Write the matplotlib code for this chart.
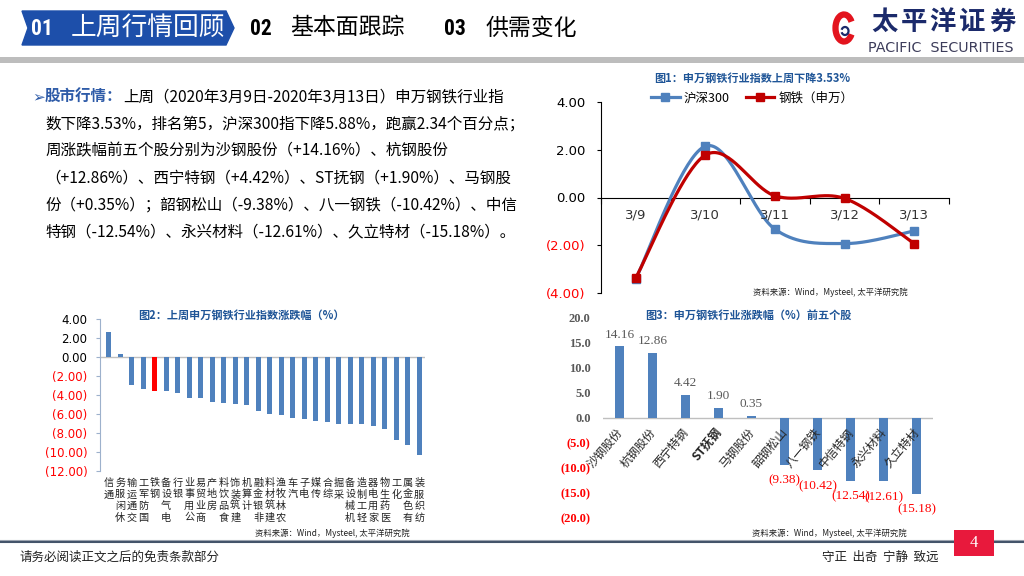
import numpy as np
import matplotlib
matplotlib.use("Agg")
import matplotlib.pyplot as plt
from matplotlib.patches import Polygon, Rectangle, Arc
from matplotlib.lines import Line2D

W, H = 1024, 576
CJK = ['Noto Sans CJK SC', 'DejaVu Sans']
SERIF = ['Liberation Serif', 'Noto Sans CJK SC']
NARROW = ['Roboto Condensed', 'Liberation Sans Narrow', 'Noto Sans CJK SC']
plt.rcParams['font.family'] = CJK
plt.rcParams['axes.unicode_minus'] = False

BLUE_TITLE = '#1F5597'
BAR_BLUE = '#4F81BD'

# --------------------------------------------------
# Data
# --------------------------------------------------
days = ["3/9", "3/10", "3/11", "3/12", "3/13"]
hs300 = [-3.40, 2.15, -1.33, -1.93, -1.40]
steel = [-3.36, 1.78, 0.07, -0.04, -1.93]

industries = ["通信", "休闲服务", "交通运输", "国防军工", "钢铁", "电气设备", "银行",
              "公用事业", "商业贸易", "房地产", "食品饮料", "建筑装饰", "计算机",
              "非银金融", "建筑材料", "农林牧渔", "汽车", "电子", "传媒", "综合",
              "采掘", "机械设备", "轻工制造", "家用电器", "医药生物", "化工",
              "有色金属", "纺织服装"]
ind_change = [2.60, 0.35, -2.90, -3.35, -3.53, -3.55, -3.75, -4.30, -4.35, -4.75,
              -4.80, -4.95, -5.10, -5.65, -6.05, -6.10, -6.45, -6.55, -6.70, -6.85,
              -7.00, -7.05, -7.10, -7.25, -7.55, -8.70, -9.30, -10.30]

stocks = ["沙钢股份", "杭钢股份", "西宁特钢", "ST抚钢", "马钢股份",
          "韶钢松山", "八一钢铁", "中信特钢", "永兴材料", "久立特材"]
stock_change = [14.16, 12.86, 4.42, 1.90, 0.35, -9.38, -10.42, -12.54, -12.61, -15.18]

para_lines = [
    "上周（2020年3月9日-2020年3月13日）申万钢铁行业指",
    "数下降3.53%，排名第5，沪深300指下降5.88%，跑赢2.34个百分点；",
    "周涨跌幅前五个股分别为沙钢股份（+14.16%）、杭钢股份",
    "（+12.86%）、西宁特钢（+4.42%）、ST抚钢（+1.90%）、马钢股",
    "份（+0.35%）；韶钢松山（-9.38%）、八一钢铁（-10.42%）、中信",
    "特钢（-12.54%）、永兴材料（-12.61%）、久立特材（-15.18%）。",
]
source = "资料来源：Wind，Mysteel, 太平洋研究院"


def paren(v, fmt):
    return fmt.format(v) if v >= 0 else "(" + fmt.format(-v) + ")"


def smooth(xs, ys, n=40):
    # Excel-style smoothed line (cubic Bezier through the points)
    p = np.column_stack([xs, ys]).astype(float)
    pe = np.vstack([p[0], p, p[-1]])
    out = []
    for i in range(len(p) - 1):
        p0, p1, p2, p3 = pe[i], pe[i + 1], pe[i + 2], pe[i + 3]
        c1 = p1 + (p2 - p0) / 6
        c2 = p2 - (p3 - p1) / 6
        t = np.linspace(0, 1, n)[:, None]
        seg = (1 - t) ** 3 * p1 + 3 * (1 - t) ** 2 * t * c1 + 3 * (1 - t) * t ** 2 * c2 + t ** 3 * p2
        out.append(seg if i == 0 else seg[1:])
    s = np.vstack(out)
    return s[:, 0], s[:, 1]


def ax_at(l, t, r, b):
    ax = fig.add_axes([l / W, 1 - b / H, (r - l) / W, (b - t) / H])
    ax.patch.set_alpha(0)
    return ax


fig = plt.figure(figsize=(W / 100, H / 100), dpi=100)

# background layer in pixel coordinates
bg = fig.add_axes([0, 0, 1, 1])
bg.set_xlim(0, W)
bg.set_ylim(H, 0)
bg.axis('off')

# --------------------------------------------------
# Header
# --------------------------------------------------
bg.add_patch(Polygon([(22, 11), (226, 11), (234, 28), (226, 45), (22, 45), (28, 28)],
                     closed=True, color='#1D4FAA', zorder=1))
bg.text(31, 29, "01", color='white', fontsize=15.5, fontweight='bold',
        family=NARROW, va='center', ha='left', zorder=2)
bg.text(71, 28, "上周行情回顾", color='white', fontsize=18.5, va='center', ha='left', zorder=2)
bg.text(250, 29, "02", color='black', fontsize=15.5, fontweight='bold',
        family=NARROW, va='center', ha='left')
bg.text(290, 28, "基本面跟踪", color='black', fontsize=16.5, va='center', ha='left')
bg.text(444, 29, "03", color='black', fontsize=15.5, fontweight='bold',
        family=NARROW, va='center', ha='left')
bg.text(486, 28, "供需变化", color='black', fontsize=16.5, va='center', ha='left')
bg.add_patch(Rectangle((0, 57), W, 6, color='#BDBDBD', lw=0))

# logo
bg.add_patch(Arc((844, 28), 17, 27, theta1=40, theta2=320, color='#E3141E', lw=4.5))
bg.add_patch(Arc((845, 31), 7, 8, theta1=200, theta2=520, color='#1B2A6B', lw=1.6))
for k, ch in enumerate("太平洋证券"):
    bg.text(884 + k * 29.5, 22, ch, color='#1B2A6B', fontsize=19, fontweight='bold',
            ha='center', va='center')
bg.text(868, 48, "PACIFIC  SECURITIES", color='#3C3C5A', fontsize=10.3,
        family=['DejaVu Sans'], ha='left', va='center')

# --------------------------------------------------
# Paragraph
# --------------------------------------------------
bg.text(32, 97, "➢", color='#2E5BA8', fontsize=11, family=['DejaVu Sans'], va='center', ha='left')
bg.text(45, 97, "股市行情：", color='#2E5BA8', fontsize=11.2, fontweight='bold', va='center', ha='left')
for k, line in enumerate(para_lines):
    x0 = 123 if k == 0 else 45
    bg.text(x0, 97 + k * 27, line, color='black', fontsize=11.2, va='center', ha='left')

# --------------------------------------------------
# Footer
# --------------------------------------------------
bg.plot([0, W], [539.5, 539.5], color='#A0A8B4', lw=0.8)
bg.plot([0, W], [541.8, 541.8], color='#44546A', lw=1.5)
bg.add_patch(Rectangle((954, 530), 40, 26, color='#E8193C', lw=0, zorder=3))
bg.text(974, 543, "4", color='white', fontsize=12, family=SERIF, ha='center', va='center', zorder=4)
bg.text(20, 557, "请务必阅读正文之后的免责条款部分", color='#222222', fontsize=9, ha='left', va='center')
bg.text(822, 557, "守正  出奇  宁静  致远", color='#222222', fontsize=9, ha='left', va='center')

# --------------------------------------------------
# Chart 1: daily change lines
# --------------------------------------------------
ax1 = ax_at(601, 102, 949, 293)
xs = np.arange(len(days))
for vals, col in [(hs300, '#4F81BD'), (steel, '#C00000')]:
    sx, sy = smooth(xs, vals)
    ax1.plot(sx, sy, color=col, lw=2.3, zorder=3)
    ax1.plot(xs, vals, ls='none', marker='s', ms=6, color=col, zorder=4)
ax1.set_xlim(-0.5, len(days) - 0.5)
ax1.set_ylim(-4, 4)
ax1.spines['top'].set_visible(False)
ax1.spines['right'].set_visible(False)
ax1.spines['bottom'].set_position(('data', 0))
ax1.spines['left'].set_linewidth(0.8)
ax1.spines['bottom'].set_linewidth(0.8)
ax1.set_xticks(np.arange(-0.5, len(days), 1))
ax1.set_xticklabels([])
ax1.tick_params(axis='x', direction='out', length=4, width=0.8)
yt1 = [-4, -2, 0, 2, 4]
ax1.set_yticks(yt1)
ax1.set_yticklabels([paren(v, "{:.2f}") for v in yt1], fontsize=9.5, family=['DejaVu Sans'])
ax1.tick_params(axis='y', direction='out', length=3, width=0.8, pad=8)
for v, lab in zip(yt1, ax1.get_yticklabels()):
    lab.set_color('red' if v < 0 else 'black')
for i, d in enumerate(days):
    ax1.annotate(d, (i, 0), xytext=(0, -8), textcoords='offset points', ha='center', va='top',
                 fontsize=9.5, color='#333333', family=['DejaVu Sans'])
bg.text(752, 78, "图1：申万钢铁行业指数上周下降3.53%", color=BLUE_TITLE, fontsize=8,
        fontweight='bold', ha='center', va='center')
handles = [Line2D([], [], color='#4F81BD', lw=2.3, marker='s', ms=6),
           Line2D([], [], color='#C00000', lw=2.3, marker='s', ms=6)]
fig.legend(handles, ["沪深300", "钢铁（申万）"], loc='center', bbox_to_anchor=(752 / W, 1 - 98 / H),
           ncol=2, frameon=False, fontsize=9, handlelength=2.3, columnspacing=1.3, handletextpad=0.3)
bg.text(753, 292, source, fontsize=6, color='#222222', ha='left', va='center')

# --------------------------------------------------
# Chart 2: industry ranking
# --------------------------------------------------
ax2 = ax_at(100, 319, 425, 471)
xi = np.arange(len(industries))
cols = ['#FF0000' if n == "钢铁" else BAR_BLUE for n in industries]
ax2.bar(xi, ind_change, width=0.42, color=cols, zorder=3)
ax2.axhline(0, color='#BFBFBF', lw=1, zorder=2)
ax2.set_xlim(-0.75, len(industries) - 0.5)
ax2.set_ylim(-12, 4)
for s in ['top', 'right', 'bottom']:
    ax2.spines[s].set_visible(False)
ax2.spines['left'].set_color('#9DB1CC')
ax2.set_xticks([])
yt2 = np.arange(-12, 5, 2)
ax2.set_yticks(yt2)
ax2.set_yticklabels([paren(v, "{:.2f}") for v in yt2], fontsize=8.5, family=['DejaVu Sans'])
ax2.tick_params(axis='y', direction='out', length=3, color='#9DB1CC', pad=6)
for v, lab in zip(yt2, ax2.get_yticklabels()):
    lab.set_color('red' if v < 0 else 'black')
for i, n in enumerate(industries):
    ax2.text(i, -0.045, "\n".join(reversed(n)), transform=ax2.get_xaxis_transform(),
             ha='center', va='top', fontsize=7.3, linespacing=1.2, color='#222222')
bg.text(241, 315, "图2：上周申万钢铁行业指数涨跌幅（%）", color=BLUE_TITLE, fontsize=8,
        fontweight='bold', ha='center', va='center')
bg.text(255, 533, source, fontsize=6, color='#222222', ha='left', va='center')

# --------------------------------------------------
# Chart 3: top / bottom five stocks
# --------------------------------------------------
ax3 = ax_at(603, 317, 933, 518)
xs3 = np.arange(len(stocks))
ax3.bar(xs3, stock_change, width=0.3, color=BAR_BLUE, zorder=3)
ax3.axhline(0, color='#BFBFBF', lw=1, zorder=2)
ax3.set_xlim(-0.5, len(stocks) - 0.5)
ax3.set_ylim(-20, 20)
for s in ax3.spines.values():
    s.set_visible(False)
ax3.set_xticks([])
yt3 = np.arange(-20, 21, 5)
ax3.set_yticks(yt3)
ax3.set_yticklabels([paren(v, "{:.1f}") for v in yt3], fontsize=9, family=SERIF, fontweight='bold')
ax3.tick_params(axis='y', length=0, pad=9)
for v, lab in zip(yt3, ax3.get_yticklabels()):
    lab.set_color('red' if v < 0 else '#595959')
for i, (n, v) in enumerate(zip(stocks, stock_change)):
    if v >= 0:
        ax3.annotate(f"{v:.2f}", (i, v), xytext=(0, 8.5), textcoords='offset points',
                     ha='center', va='center', fontsize=9.5, family=SERIF, color='#595959')
    else:
        ax3.annotate(f"({-v:.2f})", (i, v), xytext=(0, -11.5), textcoords='offset points',
                     ha='center', va='center', fontsize=9.5, family=SERIF, color='red')
    ax3.annotate(n, (i, 0), xytext=(-3, -6), textcoords='offset points', rotation=50,
                 rotation_mode='anchor', ha='right', va='top', fontsize=8.5, color='#262626',
                 fontweight='bold' if n.startswith("ST") else 'normal')
bg.text(748, 315, "图3：申万钢铁行业涨跌幅（%）前五个股", color=BLUE_TITLE, fontsize=8,
        fontweight='bold', ha='center', va='center')
bg.text(752, 533, source, fontsize=6, color='#222222', ha='left', va='center')

fig.savefig("out.png", dpi=100)
